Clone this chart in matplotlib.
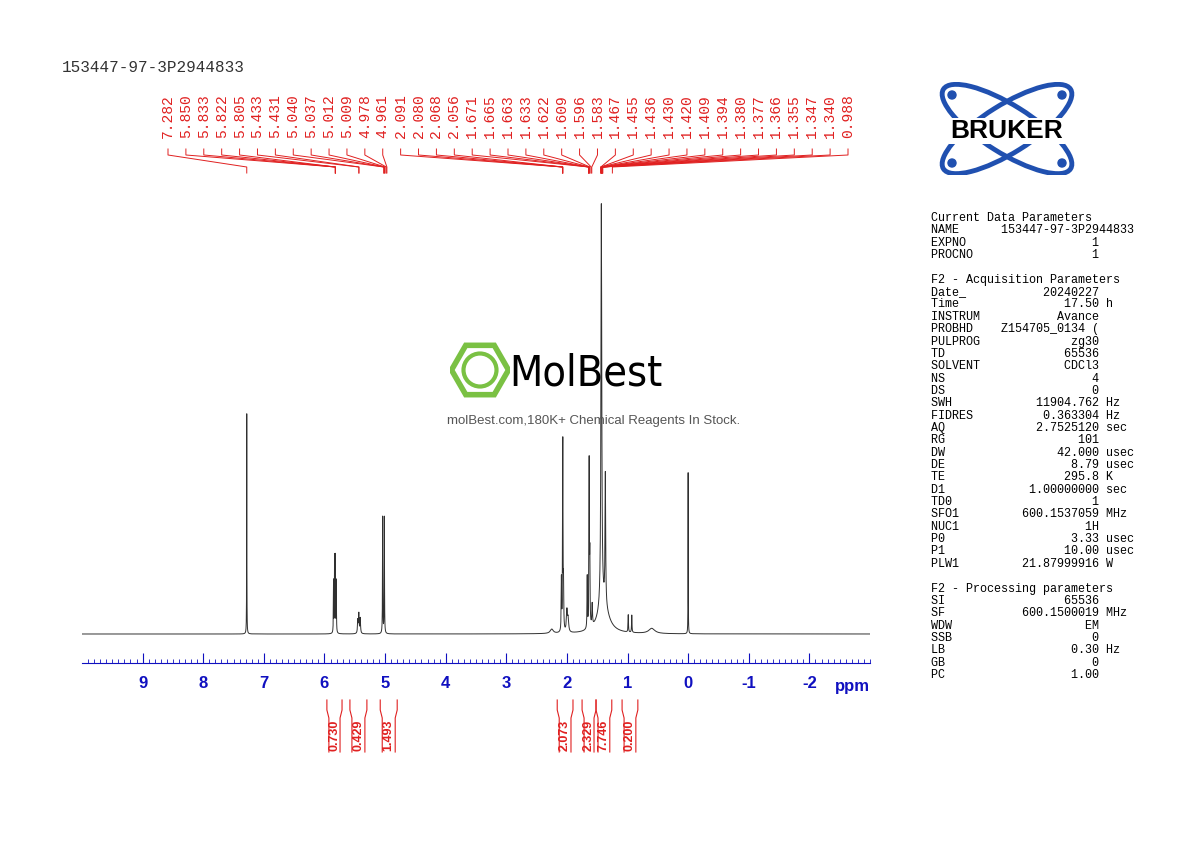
import numpy as np
import matplotlib
matplotlib.use("Agg")
import matplotlib.pyplot as plt
from matplotlib.patches import Ellipse, Circle, RegularPolygon

plt.rcParams["axes.unicode_minus"] = False

title = "153447-97-3P2944833"

# peak list (ppm, relative height, half width ppm)
peak_pos = [7.282, 5.850, 5.833, 5.822, 5.805, 5.45, 5.433, 5.41, 5.040, 5.012,
            2.091, 2.068, 2.056, 2.00, 1.98, 1.665, 1.633, 1.622, 1.583,
            1.432, 1.366, 1.40, 0.988, 0.93, 0.60, 2.25, 0.000]
peak_h = [0.51, 0.12, 0.17, 0.17, 0.12, 0.03, 0.045, 0.035, 0.27, 0.27,
          0.12, 0.44, 0.10, 0.05, 0.03, 0.12, 0.38, 0.15, 0.05,
          0.93, 0.30, 0.07, 0.04, 0.04, 0.012, 0.01, 0.375]
peak_w = [0.002, 0.003, 0.003, 0.003, 0.003, 0.006, 0.006, 0.006, 0.003, 0.003,
          0.004, 0.004, 0.004, 0.01, 0.01, 0.004, 0.004, 0.004, 0.006,
          0.008, 0.006, 0.10, 0.004, 0.004, 0.06, 0.03, 0.002]

shift_labels = ["7.282", "5.850", "5.833", "5.822", "5.805", "5.433", "5.431", "5.040",
                "5.037", "5.012", "5.009", "4.978", "4.961", "2.091", "2.080", "2.068",
                "2.056", "1.671", "1.665", "1.663", "1.633", "1.622", "1.609", "1.596",
                "1.583", "1.467", "1.455", "1.436", "1.430", "1.420", "1.409", "1.394",
                "1.380", "1.377", "1.366", "1.355", "1.347", "1.340", "0.988"]
# where the label lines end (ppm)
shift_targets = [7.282, 5.82, 5.82, 5.82, 5.82, 5.433, 5.431, 5.02, 5.02, 5.01, 5.0, 4.98, 4.97,
                 2.07, 2.07, 2.07, 2.07, 1.64, 1.64, 1.64, 1.64, 1.63, 1.62, 1.6, 1.59,
                 1.44, 1.44, 1.44, 1.43, 1.43, 1.43, 1.43, 1.42, 1.42, 1.42, 1.42, 1.41, 1.41, 1.25]

int_left = [5.96, 5.58, 5.08, 2.16, 1.75, 1.52, 1.09]
int_right = [5.71, 5.30, 4.80, 1.90, 1.52, 1.26, 0.83]
int_vals = ["0.730", "0.429", "1.493", "2.073", "2.329", "7.746", "0.200"]

params = [
    ("Current Data Parameters", None, None),
    ("NAME", "153447-97-3P2944833", ""), ("EXPNO", "1", ""), ("PROCNO", "1", ""),
    ("", None, None),
    ("F2 - Acquisition Parameters", None, None),
    ("Date_", "20240227", ""), ("Time", "17.50", "h"), ("INSTRUM", "Avance", ""),
    ("PROBHD", "Z154705_0134 (", ""), ("PULPROG", "zg30", ""), ("TD", "65536", ""),
    ("SOLVENT", "CDCl3", ""), ("NS", "4", ""), ("DS", "0", ""),
    ("SWH", "11904.762", "Hz"), ("FIDRES", "0.363304", "Hz"), ("AQ", "2.7525120", "sec"),
    ("RG", "101", ""), ("DW", "42.000", "usec"), ("DE", "8.79", "usec"),
    ("TE", "295.8", "K"), ("D1", "1.00000000", "sec"), ("TD0", "1", ""),
    ("SFO1", "600.1537059", "MHz"), ("NUC1", "1H", ""), ("P0", "3.33", "usec"),
    ("P1", "10.00", "usec"), ("PLW1", "21.87999916", "W"),
    ("", None, None),
    ("F2 - Processing parameters", None, None),
    ("SI", "65536", ""), ("SF", "600.1500019", "MHz"), ("WDW", "EM", ""),
    ("SSB", "0", ""), ("LB", "0.30", "Hz"), ("GB", "0", ""), ("PC", "1.00", ""),
]

W, H = 1190, 842
fig = plt.figure(figsize=(11.9, 8.42), dpi=100)
red = "#e02020"
blue = "#1010c0"
mono = "Liberation Mono"

def fx(px): return px / W
def fy(py): return 1 - py / H

# spectrum axes: x 82..870 px, y 195..663 px
ax = fig.add_axes([fx(82), fy(663), fx(870) - fx(82), fy(195) - fy(663)])
x = np.linspace(-3, 10, 40000)
y = np.zeros_like(x)
for p, h, w in zip(peak_pos, peak_h, peak_w):
    y += h * w**2 / ((x - p)**2 + w**2)
ax.plot(x, y, color="#303030", lw=0.7)
ax.set_xlim(10, -3)
ax.set_ylim(-29 / 432, 1 + 7 / 432)
for s in ["top", "left", "right"]:
    ax.spines[s].set_visible(False)
ax.spines["bottom"].set_color(blue)
ax.set_yticks([])
ax.set_xticks(np.arange(-2, 10))
ax.set_xticks(np.arange(-3, 10, 0.1), minor=True)
ax.tick_params(axis="x", which="major", direction="in", length=7, color=blue,
               labelcolor=blue, labelsize=12, pad=9)
ax.tick_params(axis="x", which="minor", direction="in", length=3, color=blue)
for t in ax.get_xticklabels():
    t.set_fontweight("bold")
    t.set_family("Liberation Sans")
fig.text(fx(835), fy(686), "ppm", color=blue, fontsize=12, fontweight="bold",
         family="Liberation Sans", va="center")

def ppm2px(v): return 82 + (10 - v) * (870 - 82) / 13.0

# peak labels
n = len(shift_labels)
xs = np.linspace(168, 848, n)
for lab, tx, tgt in zip(shift_labels, xs, shift_targets):
    fig.text(fx(tx), fy(94), lab, rotation=90, color=red, fontsize=10.5,
             family=mono, ha="center", va="top")
    px = ppm2px(tgt)
    fig.lines.append(plt.Line2D([fx(tx), fx(tx), fx(px), fx(px)],
                                [fy(149), fy(155), fy(167), fy(173)],
                                transform=fig.transFigure, color=red, lw=0.7))

# integrals
for l, r, v in zip(int_left, int_right, int_vals):
    pl, pr = ppm2px(l), ppm2px(r)
    for p, d in ((pl, 2), (pr, -2)):
        fig.lines.append(plt.Line2D([fx(p), fx(p), fx(p + d), fx(p + d)],
                                    [fy(700), fy(710), fy(718), fy(752)],
                                    transform=fig.transFigure, color=red, lw=0.8))
    fig.text(fx((pl + pr) / 2), fy(735), v, rotation=90, color=red, fontsize=9,
             fontweight="bold", family="Liberation Sans", ha="center", va="center")

fig.text(fx(62), fy(68), title, fontsize=11.5, family=mono,
         color="#333333", va="center")

# parameter panel
py = 218
for name, val, unit in params:
    if val is None:
        line = name
    elif len(val) > 17:
        line = name + val.rjust(29 - len(name))
    else:
        line = f"{name:<7}{val:>17} {unit}"
    fig.text(fx(931), fy(py), line, fontsize=8.5, family=mono, va="center")
    py += 12.35

# Bruker logo
lax = fig.add_axes([fx(922), fy(175), fx(170), fy(82) - fy(175)])
lax.set_xlim(0, 170); lax.set_ylim(0, 93); lax.axis("off")
for ang in (32, -32):
    lax.add_patch(Ellipse((85, 46), 150, 48, angle=ang, fill=False, ec="#2050b0", lw=3.5))
for cx, cy in ((30, 80), (140, 80), (30, 12), (140, 12)):
    lax.add_patch(Circle((cx, cy), 4, color="#2050b0"))
lax.text(85, 44, "BRUKER", fontsize=19, fontweight="bold", family="Liberation Sans",
         ha="center", va="center", color="black",
         bbox=dict(fc="white", ec="none", pad=1))

# watermark
wax = fig.add_axes([fx(450), fy(400), fx(60), fy(340) - fy(400)])
wax.set_xlim(-1, 1); wax.set_ylim(-1, 1); wax.axis("off"); wax.set_aspect("equal")
wax.add_patch(RegularPolygon((0, 0), 6, radius=0.95, orientation=np.pi / 6,
                             fill=False, ec="#7ac143", lw=4))
wax.add_patch(Circle((0, 0), 0.55, fill=False, ec="#7ac143", lw=3))
fig.text(fx(509), fy(373), "MolBest", fontsize=31, family="DejaVu Sans",
         fontstretch="condensed", va="center", color="black")
fig.text(fx(594), fy(421), "molBest.com,180K+ Chemical Reagents In Stock.", fontsize=9.5,
         family="Liberation Sans", color="#555555", ha="center", va="center")

fig.savefig("out.png", dpi=100)
